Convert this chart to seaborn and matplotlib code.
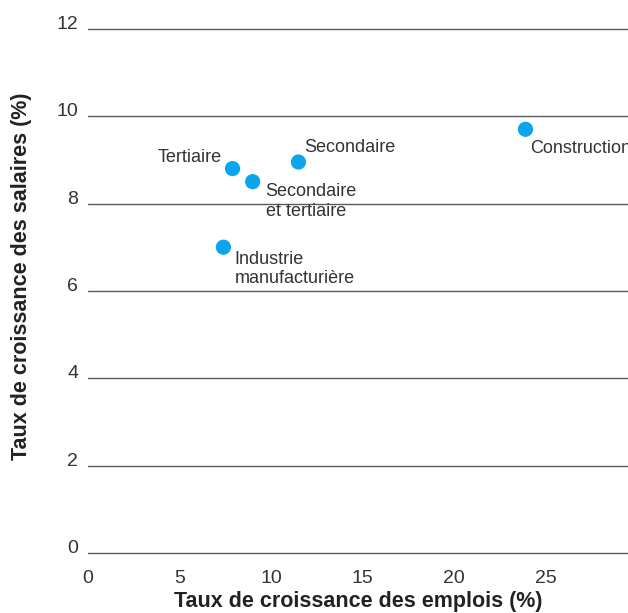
import numpy as np
import pandas as pd
import matplotlib.pyplot as plt
import seaborn as sns

# data
secteurs = ['Tertiaire', 'Secondaire\net tertiaire', 'Secondaire',
            'Industrie\nmanufacturière', 'Construction']
emplois = [7.9, 9.0, 11.5, 7.4, 23.9]      # taux de croissance des emplois (%)
salaires = [8.8, 8.5, 8.95, 7.0, 9.7]      # taux de croissance des salaires (%)

# label placement (pixels from the point, alignment)
offsets = [(-11, 11, 'right'), (13, -20, 'left'), (6, 15, 'left'),
           (11, -22, 'left'), (5, -19, 'left')]

df = pd.DataFrame({'secteur': secteurs, 'emplois': emplois, 'salaires': salaires})

sns.set_style('white')
plt.rcParams['font.family'] = ['Liberation Sans', 'DejaVu Sans']

fig = plt.figure(figsize=(6.28, 6.13), dpi=100)
ax = fig.add_axes([0.14, 0.098, 0.86, 0.855])

sns.scatterplot(data=df, x='emplois', y='salaires', ax=ax, s=120,
                color='#0aa5ea', edgecolor='none', zorder=3)

for i, row in df.iterrows():
    dx, dy, ha = offsets[i]
    ax.annotate(row['secteur'], (row['emplois'], row['salaires']),
                xytext=(dx, dy), textcoords='offset pixels',
                ha=ha, va='center', fontsize=13, color='#333333',
                linespacing=1.2, annotation_clip=False)

ax.set_xlim(0, 29.5)
ax.set_ylim(0, 12)
ax.set_xticks([0, 5, 10, 15, 20, 25])
ax.set_yticks([0, 2, 4, 6, 8, 10, 12])
ax.yaxis.grid(True, color='#5a5a5a', linewidth=1)
ax.xaxis.grid(False)
for gl in ax.get_ygridlines():
    gl.set_clip_on(False)
sns.despine(ax=ax, left=True, bottom=True, top=True, right=True)

ax.tick_params(axis='both', length=0, labelsize=14, labelcolor='#333333')
ax.tick_params(axis='y', pad=7)
ax.tick_params(axis='x', pad=12)
plt.setp(ax.get_yticklabels(), va='baseline')

ax.set_xlabel('Taux de croissance des emplois (%)', fontsize=15.5,
              fontweight='bold', color='#222222', labelpad=3)
ax.set_ylabel('Taux de croissance des salaires (%)', fontsize=15.5,
              fontweight='bold', color='#222222')
ax.yaxis.set_label_coords(-0.104, 0.527)

plt.savefig('out.png', dpi=100)
